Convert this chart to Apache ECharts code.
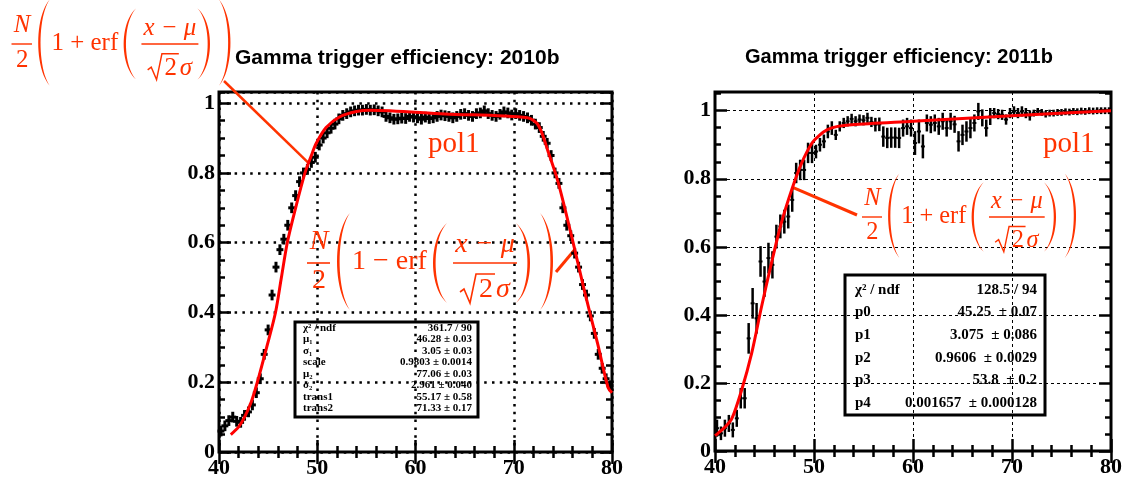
<!DOCTYPE html>
<html>
<head>
<meta charset="utf-8">
<script src="https://cdn.jsdelivr.net/npm/echarts@6/dist/echarts.min.js"></script>
<style>
html, body { margin: 0; padding: 0; background: #fff; }
#main { width: 1130px; height: 481px; }
</style>
</head>
<body>
<div id="main"></div>
<script>
// 100 bins of width 0.4 between 40 and 80
var binLo = 40, binW = 0.4;

// 2010b efficiency per bin
var eff2010 = [
    0.06, 0.075, 0.09, 0.10, 0.088, 0.085, 0.105, 0.115, 0.135, 0.17,
    0.21, 0.28, 0.35, 0.45, 0.53, 0.58, 0.61, 0.65, 0.70, 0.735,
    0.775, 0.80, 0.81, 0.83, 0.845, 0.88, 0.90, 0.915, 0.928, 0.94,
    0.955, 0.965, 0.97, 0.975, 0.978, 0.98, 0.98, 0.982, 0.98, 0.981,
    0.978, 0.975, 0.962, 0.958, 0.954, 0.955, 0.957, 0.956, 0.962, 0.96,
    0.958, 0.954, 0.96, 0.956, 0.958, 0.962, 0.966, 0.964, 0.962, 0.958,
    0.962, 0.968, 0.97, 0.965, 0.962, 0.97, 0.972, 0.978, 0.97, 0.965,
    0.962, 0.968, 0.975, 0.972, 0.966, 0.97, 0.965, 0.962, 0.958, 0.951,
    0.94, 0.93, 0.905, 0.885, 0.85, 0.80, 0.77, 0.70, 0.65, 0.62,
    0.57, 0.53, 0.48, 0.45, 0.39, 0.34, 0.28, 0.24, 0.21, 0.19
];
var err2010 = 0.011;

// 2011b efficiency per bin and its error
var eff2011 = [
    0.067, 0.052, 0.067, 0.081, 0.062, 0.096, 0.155, 0.155, 0.331, 0.434,
    0.39, 0.557, 0.498, 0.567, 0.547, 0.63, 0.66, 0.674, 0.689, 0.738,
    0.817, 0.826, 0.826, 0.876, 0.876, 0.88, 0.90, 0.91, 0.939, 0.949,
    0.929, 0.954, 0.964, 0.969, 0.976, 0.969, 0.974, 0.972, 0.979, 0.967,
    0.959, 0.96, 0.924, 0.92, 0.921, 0.921, 0.92, 0.949, 0.954, 0.949,
    0.905, 0.939, 0.895, 0.964, 0.959, 0.964, 0.954, 0.969, 0.949, 0.969,
    0.96, 0.91, 0.929, 0.939, 0.949, 0.964, 0.998, 0.979, 0.949, 0.983,
    0.993, 0.99, 0.988, 0.974, 0.993, 0.998, 0.993, 0.998, 0.993, 0.986,
    0.993, 0.998, 0.995, 0.99, 0.993, 0.993, 0.995, 0.995, 0.997, 0.996,
    0.998, 0.997, 0.999, 0.998, 1.0, 0.999, 1.0, 1.0, 1.0, 1.0
];
var err2011 = [
    0.025, 0.02, 0.025, 0.025, 0.022, 0.025, 0.03, 0.03, 0.045, 0.045,
    0.045, 0.045, 0.045, 0.045, 0.04, 0.035, 0.035, 0.035, 0.035, 0.035,
    0.03, 0.03, 0.03, 0.03, 0.03, 0.02, 0.02, 0.02, 0.02, 0.02,
    0.015, 0.015, 0.015, 0.015, 0.015, 0.015, 0.015, 0.015, 0.015, 0.015,
    0.02, 0.02, 0.03, 0.03, 0.03, 0.03, 0.03, 0.025, 0.025, 0.025,
    0.035, 0.035, 0.035, 0.025, 0.025, 0.025, 0.025, 0.025, 0.025, 0.025,
    0.025, 0.03, 0.03, 0.03, 0.03, 0.025, 0.025, 0.025, 0.025, 0.025,
    0.015, 0.015, 0.015, 0.015, 0.015, 0.015, 0.015, 0.015, 0.015, 0.015,
    0.01, 0.01, 0.01, 0.01, 0.01, 0.01, 0.01, 0.01, 0.01, 0.01,
    0.01, 0.01, 0.01, 0.01, 0.01, 0.01, 0.01, 0.01, 0.01, 0.01
];

// fitted curves
var fit2010 = [
    [41.2, 0.05], [42.0, 0.072], [42.6, 0.10], [43.3, 0.145], [43.9, 0.20], [44.85, 0.30],
    [45.75, 0.40], [46.35, 0.50], [46.95, 0.60], [47.8, 0.70], [48.75, 0.80], [49.4, 0.85],
    [49.9, 0.885], [50.9, 0.93], [52.3, 0.961], [54.0, 0.976], [55.3, 0.98], [63.0, 0.969],
    [71.4, 0.958], [72.5, 0.937], [73.5, 0.861], [74.5, 0.775], [75.85, 0.623], [77.2, 0.461],
    [78.55, 0.309], [79.6, 0.185], [80.0, 0.17]
];
var fit2011 = [
    [40.0, 0.045], [40.3, 0.052], [41.0, 0.07], [41.7, 0.095], [42.7, 0.18], [43.7, 0.287],
    [44.7, 0.424], [45.7, 0.552], [46.7, 0.67], [47.75, 0.768], [48.75, 0.846], [49.8, 0.905],
    [50.6, 0.929], [51.3, 0.944], [52.4, 0.954], [53.8, 0.959], [60.0, 0.969], [70.0, 0.985],
    [80.0, 1.0]
];

var xLabels = ['40', '50', '60', '70', '80'];
var yLabels = ['0', '0.2', '0.4', '0.6', '0.8', '1'];

var titles = ['Gamma trigger efficiency: 2010b', 'Gamma trigger efficiency: 2011b'];

var stats2010Names = ['χ² / ndf', 'μ₁', 'σ₁', 'scale', 'μ₂', 'σ₂', 'trans1', 'trans2'];
var stats2010Vals = ['361.7 / 90', '46.28 ± 0.03', '3.05 ± 0.03', '0.9803 ± 0.0014',
    '77.06 ± 0.03', '2.961 ± 0.040', '55.17 ± 0.58', '71.33 ± 0.17'];
var stats2011Names = ['χ² / ndf', 'p0', 'p1', 'p2', 'p3', 'p4'];
var stats2011Vals = ['128.5 / 94', '45.25  ± 0.07', '3.075  ± 0.086', '0.9606  ± 0.0029',
    '53.8  ± 0.2', '0.001657  ± 0.000128'];

var red = '#ff3300';

function binCentre(i) { return binLo + binW * (i + 0.5); }

var pts2010 = eff2010.map(function (v, i) { return [binCentre(i), v, err2010]; });
var pts2011 = eff2011.map(function (v, i) { return [binCentre(i), v, err2011[i]]; });

// ROOT style "+" markers: bin width horizontally, error vertically
function markRender(hw, vw, cap) {
    return function (params, api) {
        var x = api.value(0), y = api.value(1), e = api.value(2);
        var a = api.coord([x - binW / 2, y]), b = api.coord([x + binW / 2, y]);
        var t = api.coord([x, y + e]), u = api.coord([x, y - e]);
        return {
            type: 'group',
            children: [
                { type: 'line', shape: { x1: a[0], y1: a[1], x2: b[0], y2: b[1] },
                  style: { stroke: '#000', lineWidth: hw, lineCap: cap } },
                { type: 'line', shape: { x1: t[0], y1: t[1], x2: u[0], y2: u[1] },
                  style: { stroke: '#000', lineWidth: vw, lineCap: cap } }
            ]
        };
    };
}

var tickStyle = { color: '#000', width: 2.5 };
var gridLine = [
    { color: '#000', width: 2.5, type: [2.5, 5.3] },
    { color: '#000', width: 1, type: [3, 3] }
];

function xAxis(g, pos) {
    var main = pos === 'bottom';
    return {
        type: 'value', gridIndex: g, position: pos, min: 40, max: 80, interval: 10,
        axisLine: { show: false },
        axisTick: { show: true, inside: true, length: 12, lineStyle: tickStyle },
        minorTick: { show: true, splitNumber: 5, length: 6, lineStyle: tickStyle },
        axisLabel: {
            show: main, margin: 5,
            formatter: function (v) { var s = String(v); return xLabels.indexOf(s) >= 0 ? s : ''; },
            fontFamily: 'Liberation Serif', fontWeight: 'bold', fontSize: 22, color: '#000'
        },
        splitLine: { show: main, lineStyle: gridLine[g] }
    };
}

function yAxis(g, pos, major, ymax) {
    var main = major && pos === 'left';
    return {
        type: 'value', gridIndex: g, position: pos, min: 0, max: ymax,
        interval: major ? 0.2 : 0.05,
        axisLine: { show: false },
        axisTick: { show: true, inside: true, length: major ? 12 : 6, lineStyle: tickStyle },
        axisLabel: {
            show: main, margin: 4, showMaxLabel: false,
            formatter: function (v) { var s = String(+v.toFixed(4)); return yLabels.indexOf(s) >= 0 ? s : ''; },
            fontFamily: 'Liberation Serif', fontWeight: 'bold', fontSize: 22, color: '#000'
        },
        splitLine: { show: main, lineStyle: gridLine[g] }
    };
}

var chart = echarts.init(document.getElementById('main'));

chart.setOption({
    animation: false,
    backgroundColor: '#fff',
    title: [
        { text: titles[0], left: 235, top: 48, padding: 0,
          textStyle: { fontFamily: 'Liberation Sans', fontWeight: 'bold', fontSize: 21, color: '#000' } },
        { text: titles[1], left: 745, top: 47, padding: 0,
          textStyle: { fontFamily: 'Liberation Sans', fontWeight: 'bold', fontSize: 20, color: '#000' } }
    ],
    grid: [
        { left: 219, top: 92, width: 393, height: 360, show: true, borderColor: '#000', borderWidth: 3, backgroundColor: 'transparent' },
        { left: 715, top: 92, width: 396, height: 359, show: true, borderColor: '#000', borderWidth: 3, backgroundColor: 'transparent' }
    ],
    xAxis: [xAxis(0, 'bottom'), xAxis(0, 'top'), xAxis(1, 'bottom'), xAxis(1, 'top')],
    yAxis: [
        yAxis(0, 'left', true, 1.032), yAxis(0, 'left', false, 1.032),
        yAxis(0, 'right', true, 1.032), yAxis(0, 'right', false, 1.032),
        yAxis(1, 'left', true, 1.055), yAxis(1, 'left', false, 1.055),
        yAxis(1, 'right', true, 1.055), yAxis(1, 'right', false, 1.055)
    ],
    series: [
        { type: 'custom', xAxisIndex: 0, yAxisIndex: 0, data: pts2010, renderItem: markRender(3, 3, 'square'), z: 3 },
        { type: 'line', xAxisIndex: 0, yAxisIndex: 0, data: fit2010, showSymbol: false, smooth: 0.3,
          lineStyle: { color: '#ff0000', width: 3 }, z: 4 },
        { type: 'custom', xAxisIndex: 2, yAxisIndex: 4, data: pts2011, renderItem: markRender(2, 2.5, 'butt'), z: 3 },
        { type: 'line', xAxisIndex: 2, yAxisIndex: 4, data: fit2011, showSymbol: false, smooth: 0.3,
          lineStyle: { color: '#ff0000', width: 3 }, z: 4 }
    ]
});

// ---------- annotations: formulas, pol1 labels, stat boxes ----------
function serif(size, italic, bold) {
    return (italic ? 'italic ' : '') + (bold ? 'bold ' : '') + size + 'px "Liberation Serif"';
}
function tx(s, x, y, size, italic, align) {
    return { type: 'text', x: x, y: y,
        style: { text: s, font: serif(size, italic), fill: red, align: align || 'center', verticalAlign: 'middle' } };
}
function ln(x1, y1, x2, y2, w, col) {
    return { type: 'line', shape: { x1: x1, y1: y1, x2: x2, y2: y2 }, style: { stroke: col || red, lineWidth: w } };
}
function bez(t, w, c, h) {
    var s = 1 - t;
    return [s * s * s * w + 3 * s * s * t * c + 3 * s * t * t * c + t * t * t * w,
            3 * s * s * t * 0.2 * h + 3 * s * t * t * 0.8 * h + t * t * t * h];
}
function paren(x0, y0, w, h, left) {
    var pts = [], n = 24, i;
    var outer = -w / 3, inner = (8 * 2.6 - 2 * w) / 6;
    for (i = 0; i <= n; i++) { pts.push(bez(i / n, w, outer, h)); }
    for (i = n; i >= 0; i--) { pts.push(bez(i / n, w, inner, h)); }
    pts = pts.map(function (q) { return [x0 + (left ? q[0] : w - q[0]), y0 + q[1]]; });
    return { type: 'polygon', shape: { points: pts }, style: { fill: red } };
}
function formula(ox, oy, s, sign) {
    return {
        type: 'group', x: ox, y: oy, scaleX: s, scaleY: s,
        children: [
            tx('N', 12, -21, 28, true),
            ln(0, 0, 23, 0, 1.6),
            tx('2', 12, 18, 28),
            paren(30, -50, 13, 97, true),
            tx('1 ' + sign + ' erf', 45, -1, 28, false, 'left'),
            paren(126, -40, 14, 80, true),
            tx('x − μ', 178, -18, 28, true),
            ln(146, 0, 210, 0, 1.6),
            { type: 'polyline', shape: { points: [[153, 29], [157, 26], [163, 40], [169, 11], [188, 11]] },
              style: { stroke: red, lineWidth: 1.6, fill: null } },
            tx('2', 179, 27, 28),
            tx('σ', 196, 27, 28, true),
            paren(209, -40, 14, 80, false),
            paren(233, -50, 13, 97, false)
        ]
    };
}
function statBox(x, y, w, h, names, vals, size, top, step, pad) {
    var kids = [{ type: 'rect', shape: { x: x, y: y, width: w, height: h },
                  style: { stroke: '#000', lineWidth: 3, fill: null } }];
    names.forEach(function (n, i) {
        var yy = top + i * step;
        kids.push({ type: 'text', x: x + pad, y: yy,
            style: { text: n, font: serif(size, false, true), fill: '#000', align: 'left', verticalAlign: 'middle' } });
        kids.push({ type: 'text', x: x + w - pad + 2, y: yy,
            style: { text: vals[i], font: serif(size, false, true), fill: '#000', align: 'right', verticalAlign: 'middle' } });
    });
    return { type: 'group', children: kids };
}

// leader lines end on the fitted curves
var a1 = chart.convertToPixel({ seriesIndex: 1 }, [49.05, 0.83]);
var a2 = chart.convertToPixel({ seriesIndex: 1 }, [76.2, 0.58]);
var a3 = chart.convertToPixel({ seriesIndex: 3 }, [47.85, 0.775]);

chart.setOption({
    graphic: [
        formula(11.5, 44, 0.89, '+'),
        formula(307, 263, 1, '−'),
        formula(862, 217, 0.87, '+'),
        ln(224, 81, a1[0], a1[1], 2.5),
        ln(556, 272, a2[0], a2[1], 3),
        ln(857, 215, a3[0], a3[1], 3),
        tx('pol1', 428, 144, 29, false, 'left'),
        tx('pol1', 1043, 144, 29, false, 'left'),
        statBox(295, 322, 183, 95, stats2010Names, stats2010Vals, 11, 328, 11.5, 8),
        statBox(845, 275, 200, 140, stats2011Names, stats2011Vals, 15, 290, 22.6, 10)
    ]
});
</script>
</body>
</html>
